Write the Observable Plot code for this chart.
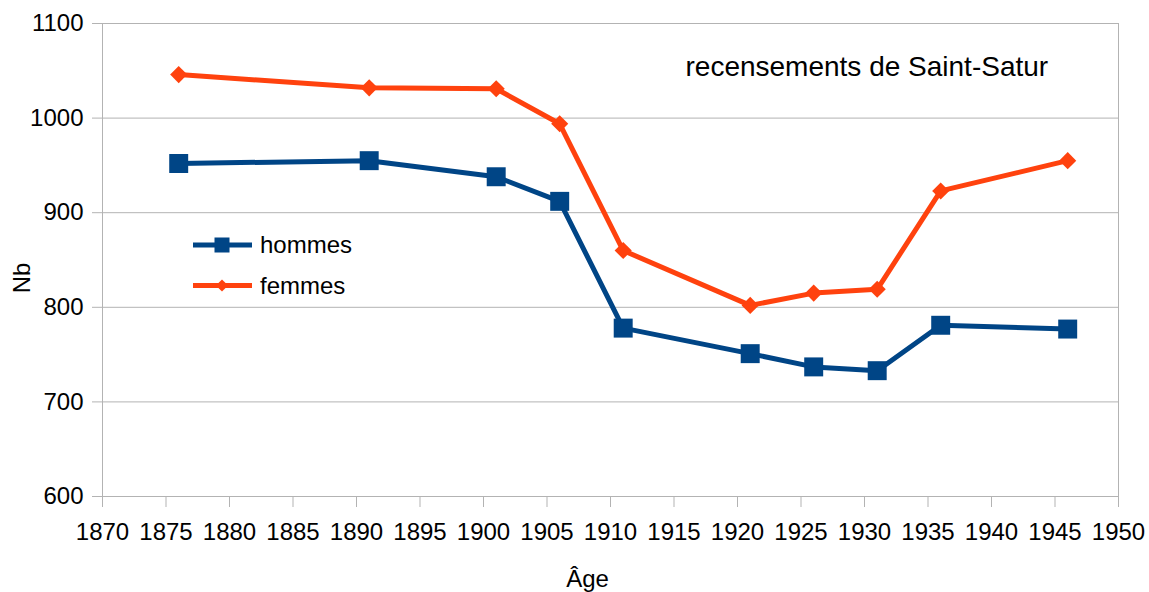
<!DOCTYPE html>
<html>
<head>
<meta charset="utf-8">
<script src="https://cdn.jsdelivr.net/npm/d3@7"></script>
<script src="https://cdn.jsdelivr.net/npm/@observablehq/plot@0.6"></script>
<style>
  html, body { margin: 0; padding: 0; background: #fff; }
  #chart { position: relative; width: 1149px; height: 592px; font-family: "Liberation Sans", Arial, sans-serif; }
  #legend { position: absolute; left: 0; top: 0; pointer-events: none; }
</style>
</head>
<body>
<div id="chart"></div>
<script>
const years   = [1876, 1891, 1901, 1906, 1911, 1921, 1926, 1931, 1936, 1946];
const hommes  = [952, 955, 938, 912, 778, 751, 737, 733, 781, 777];
const femmes  = [1046, 1032, 1031, 994, 860, 802, 815, 819, 923, 955];
const seriesNames = ["hommes", "femmes"];
const seriesColors = ["#004586", "#ff420e"];
const xTicks = d3.range(1870, 1951, 5);
const yTicks = [600, 700, 800, 900, 1000, 1100];
const titleText = "recensements de Saint-Satur";
const xLabel = "Âge";
const yLabel = "Nb";

const table = years.map((y, i) => ({year: y, hommes: hommes[i], femmes: femmes[i]}));
const grid = "#b3b3b3";

const W = 1149, H = 592;
const mL = 102, mR = 31, mT = 23, mB = 96;

const plot = Plot.plot({
  width: W, height: H,
  marginLeft: mL, marginRight: mR, marginTop: mT, marginBottom: mB,
  style: {fontFamily: "'Liberation Sans', Arial, sans-serif", fontSize: "24px", color: "black", background: "white"},
  x: {domain: [1870, 1950], label: null},
  y: {domain: [600, 1100], label: null},
  marks: [
    Plot.ruleY(yTicks, {stroke: grid, strokeWidth: 1}),
    Plot.frame({stroke: grid, strokeWidth: 1}),
    Plot.axisX({ticks: xTicks, tickFormat: d => String(d), tickSize: 11, tickPadding: 15, stroke: grid, fill: "black", fontSize: 24, label: null}),
    Plot.axisY({ticks: yTicks, tickFormat: d => String(d), tickSize: 10, tickPadding: 9, stroke: grid, fill: "black", fontSize: 24, label: null}),
    Plot.line(table, {x: "year", y: "hommes", stroke: seriesColors[0], strokeWidth: 5}),
    Plot.line(table, {x: "year", y: "femmes", stroke: seriesColors[1], strokeWidth: 5}),
    Plot.dot(table, {x: "year", y: "hommes", symbol: "square", r: 10.7, fill: seriesColors[0], stroke: "none"}),
    Plot.dot(table, {x: "year", y: "femmes", symbol: "diamond2", r: 7.7, fill: seriesColors[1], stroke: "none"}),
    Plot.text([titleText], {frameAnchor: "top-left", textAnchor: "start", lineAnchor: "middle", dx: 583, dy: 43.5, fontSize: 28, fill: "black"}),
    Plot.text([yLabel], {frameAnchor: "left", textAnchor: "middle", lineAnchor: "middle", rotate: -90, dx: -80.5, dy: 18, fontSize: 24, fill: "black"}),
    Plot.text([xLabel], {frameAnchor: "bottom", textAnchor: "middle", lineAnchor: "middle", dx: -23, dy: 83, fontSize: 24, fill: "black"})
  ]
});

const chart = document.getElementById("chart");
chart.appendChild(plot);

// Legend inside plot area
const legend = d3.select(chart).append("svg")
  .attr("id", "legend").attr("width", W).attr("height", H);
const legendRows = [245, 285.5];
seriesNames.forEach((name, i) => {
  const g = legend.append("g").attr("transform", `translate(0,${legendRows[i]})`);
  g.append("line").attr("x1", 193).attr("x2", 252).attr("y1", 0).attr("y2", 0)
    .attr("stroke", seriesColors[i]).attr("stroke-width", 5);
  if (i === 0) {
    g.append("rect").attr("x", 222 - 7.5).attr("y", -7.5).attr("width", 15).attr("height", 15).attr("fill", seriesColors[i]);
  } else {
    g.append("path").attr("d", d3.symbol(d3.symbolDiamond2, 95)()).attr("transform", "translate(222,0)").attr("fill", seriesColors[i]);
  }
  g.append("text").attr("x", 260).attr("y", 0).attr("dy", "0.35em")
    .attr("font-family", "'Liberation Sans', Arial, sans-serif").attr("font-size", 24).attr("fill", "black")
    .text(name);
});
</script>
</body>
</html>
